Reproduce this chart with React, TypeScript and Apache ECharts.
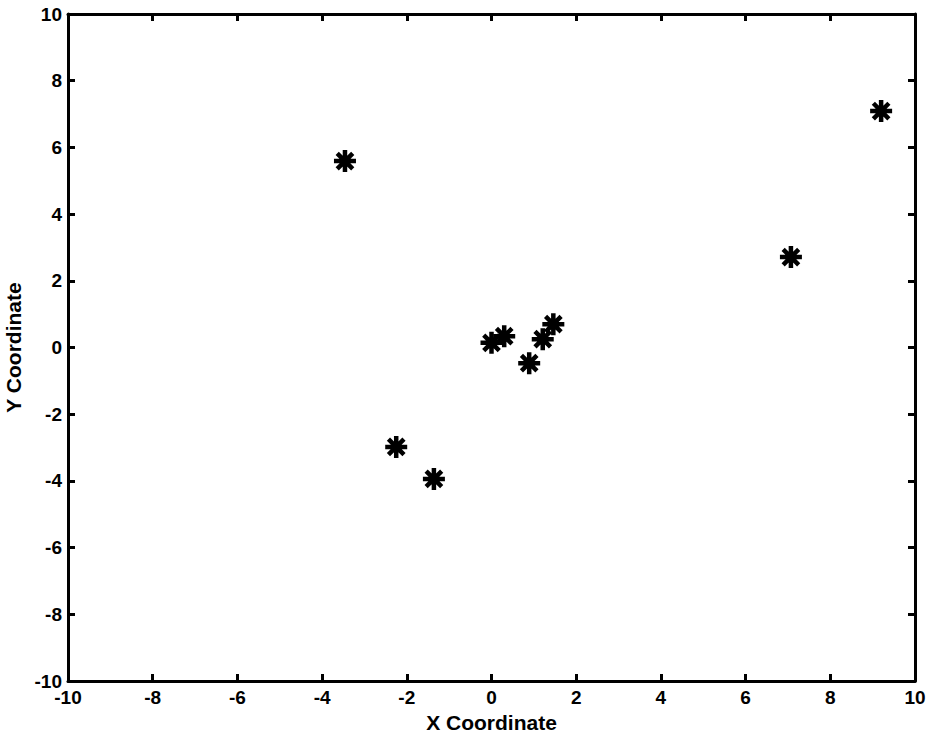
import React, { useEffect, useRef } from "react";
import * as echarts from "echarts";

const xValues = [-3.46, 9.2, 7.07, -2.25, -1.36, 0.0, 0.3, 1.21, 1.46, 0.89];
const yValues = [5.59, 7.09, 2.71, -2.98, -3.94, 0.14, 0.34, 0.25, 0.7, -0.47];
const xTicks = [-10, -8, -6, -4, -2, 0, 2, 4, 6, 8, 10];
const yTicks = [-10, -8, -6, -4, -2, 0, 2, 4, 6, 8, 10];

const FONT = "'Liberation Sans', Arial, sans-serif";
const STAR = "path://M0,-10L0,10M-10,0L10,0M-7.07,-7.07L7.07,7.07M-7.07,7.07L7.07,-7.07";

export default function App() {
  const ref = useRef<HTMLDivElement>(null);
  useEffect(() => {
    document.body.style.margin = "0";
    const chart = echarts.init(ref.current!, undefined, { renderer: "svg" });
    const axisCommon = {
      min: -10,
      max: 10,
      interval: 2,
      splitLine: { show: false },
      axisLine: { show: true, onZero: false, lineStyle: { color: "#000", width: 3 } },
      axisTick: { show: true, inside: true, length: 7, lineStyle: { color: "#000", width: 3 } },
    };
    const labelStyle = { fontFamily: FONT, fontWeight: "bold", fontSize: 19, color: "#000" };
    const nameStyle = { fontFamily: FONT, fontWeight: "bold", fontSize: 21, color: "#000" };
    chart.setOption({
      animation: false,
      backgroundColor: "#fff",
      grid: { left: 68, right: 15, top: 14, bottom: 54, containLabel: false, outerBoundsMode: "none" },
      xAxis: [
        {
          ...axisCommon,
          type: "value",
          position: "bottom",
          name: "X Coordinate",
          nameLocation: "middle",
          nameGap: 31,
          nameTextStyle: nameStyle,
          axisLabel: {
            ...labelStyle, margin: 7,
            formatter: (v: number) => (xTicks.includes(v) ? String(v) : ""),
          },
        },
        { ...axisCommon, type: "value", position: "top", axisLabel: { show: false } },
      ],
      yAxis: [
        {
          ...axisCommon,
          type: "value",
          position: "left",
          name: "Y Coordinate",
          nameLocation: "middle",
          nameGap: 44,
          nameTextStyle: nameStyle,
          axisLabel: {
            ...labelStyle, margin: 6,
            formatter: (v: number) => (yTicks.includes(v) ? String(v) : ""),
          },
        },
        { ...axisCommon, type: "value", position: "right", axisLabel: { show: false } },
      ],
      series: [
        {
          type: "scatter",
          xAxisIndex: 0,
          yAxisIndex: 0,
          data: xValues.map((x, i) => [x, yValues[i]]),
          symbol: STAR,
          symbolSize: 22,
          itemStyle: { color: "none", borderColor: "#000", borderWidth: 4.5, opacity: 1 },
          emphasis: { disabled: true },
        },
      ],
    });
    return () => chart.dispose();
  }, []);
  return <div ref={ref} style={{ width: 930, height: 735, position: "absolute", left: 0, top: 0 }} />;
}
